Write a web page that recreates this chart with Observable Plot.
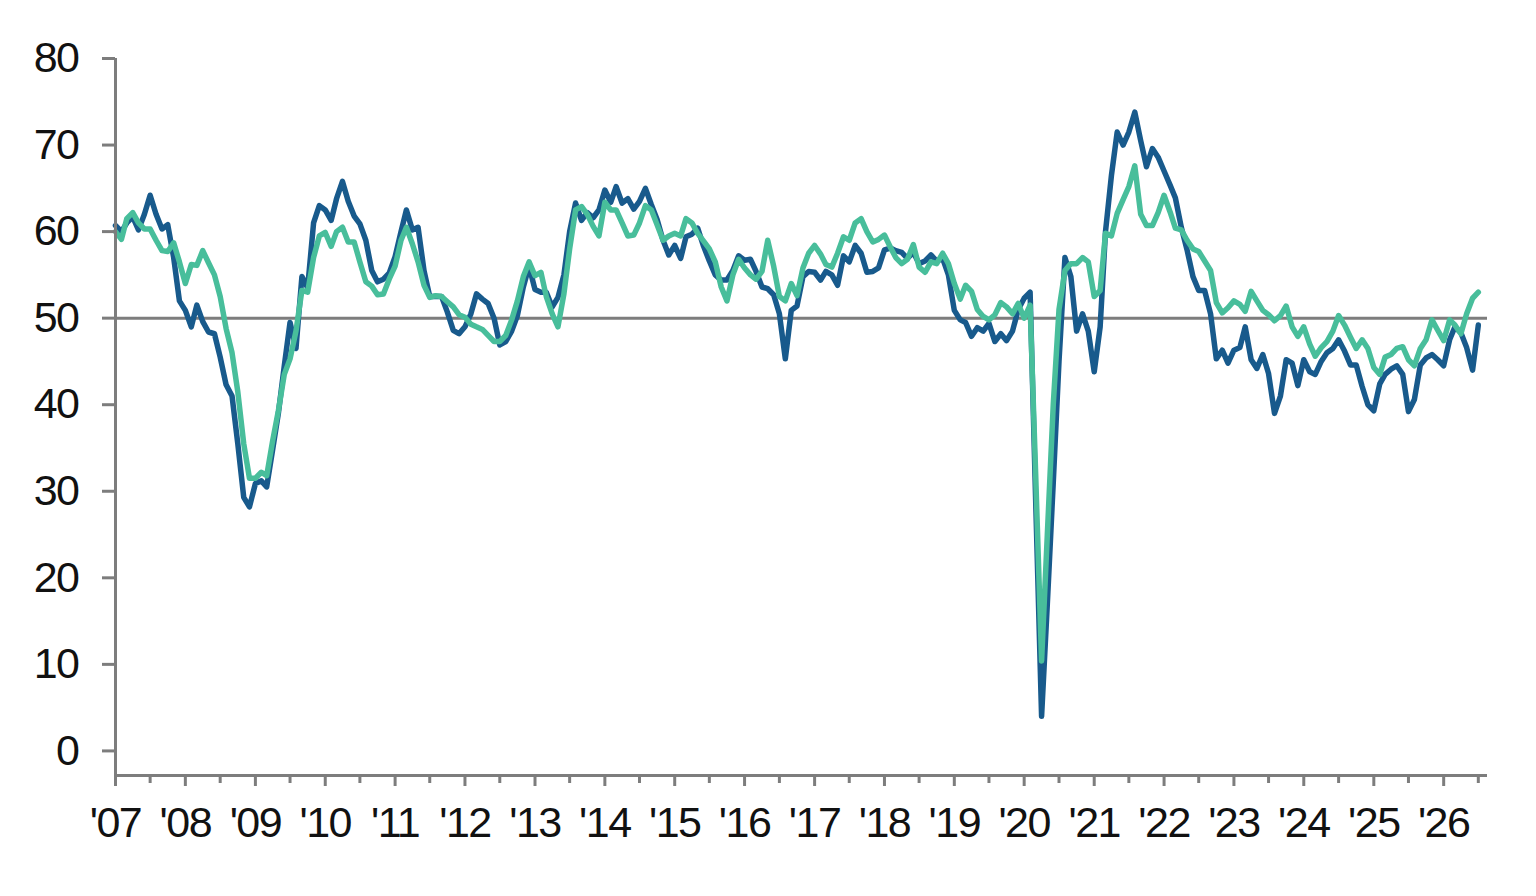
<!DOCTYPE html>
<html>
<head>
<meta charset="utf-8">
<script src="https://cdn.jsdelivr.net/npm/d3@7"></script>
<script src="https://cdn.jsdelivr.net/npm/@observablehq/plot@0.6"></script>
<style>
  html, body { margin: 0; padding: 0; background: #ffffff; }
  #chart svg { display: block; }
</style>
</head>
<body>
<div id="chart"></div>
<script>
// Monthly readings, January 2007 onwards (one row per calendar year).
const firstYear = 2007;

const darkSeries = [
  60.7, 60.0, 61.0, 61.7, 60.2, 62.0, 64.2, 62.0, 60.3, 60.8, 57.0, 52.0,
  50.9, 49.0, 51.5, 49.6, 48.4, 48.2, 45.5, 42.3, 41.0, 35.5, 29.3, 28.2,
  30.9, 31.2, 30.5, 34.8, 39.0, 44.5, 49.5, 46.5, 54.8, 53.5, 61.0, 63.0,
  62.5, 61.3, 63.8, 65.8, 63.5, 61.8, 60.9, 59.0, 55.5, 54.2, 54.5, 55.2,
  57.1, 60.0, 62.5, 60.2, 60.5, 55.5, 52.5, 52.5, 52.5, 50.7, 48.6, 48.2,
  49.0, 50.5, 52.8, 52.2, 51.7, 50.0, 46.9, 47.3, 48.5, 50.3, 53.6, 56.0,
  53.3, 53.0, 53.0, 51.3, 52.4, 55.0, 60.0, 63.3, 61.3, 62.2, 61.6, 62.5,
  64.8, 63.4, 65.2, 63.3, 63.8, 62.6, 63.5, 65.0, 63.1, 61.4, 59.0, 57.3,
  58.4, 56.9, 59.4, 59.7, 60.4, 58.3, 56.6, 55.0, 54.4, 54.4, 55.5, 57.2,
  56.7, 56.8, 55.4, 53.6, 53.4, 52.7, 50.5, 45.3, 50.9, 51.4, 54.8, 55.4,
  55.3, 54.4, 55.4, 55.0, 53.8, 57.2, 56.5, 58.4, 57.5, 55.3, 55.4, 55.8,
  57.9, 58.1, 57.8, 57.6, 56.9, 57.6, 56.3, 56.6, 57.3, 56.6, 56.9, 55.0,
  50.9, 49.8, 49.5, 47.9, 48.9, 48.5, 49.4, 47.3, 48.2, 47.4, 48.5, 51.0,
  52.3, 53.0, 29.0,  4.0, 17.0, 31.0, 45.0, 57.0, 54.8, 48.5, 50.5, 48.5,
  43.8, 49.0, 60.0, 66.5, 71.5, 70.0, 71.5, 73.8, 70.5, 67.5, 69.6, 68.6,
  67.0, 65.4, 63.9, 60.5, 57.9, 54.8, 53.2, 53.2, 50.5, 45.3, 46.3, 44.8,
  46.3, 46.6, 49.0, 45.2, 44.2, 45.8, 43.6, 39.0, 41.0, 45.2, 44.8, 42.2,
  45.2, 43.8, 43.5, 45.0, 46.0, 46.5, 47.5, 46.2, 44.6, 44.6, 42.1, 40.0,
  39.3, 42.4, 43.5, 44.1, 44.5, 43.5, 39.2, 40.6, 44.6, 45.4, 45.8, 45.2,
  44.5, 47.5, 49.0, 48.3, 46.6, 44.0, 49.2
];

const lightSeries = [
  60.0, 59.1, 61.5, 62.2, 61.0, 60.3, 60.3, 59.0, 57.8, 57.7, 58.7, 56.5,
  54.0, 56.2, 56.1, 57.8, 56.4, 55.0, 52.5, 48.8, 46.0, 41.5, 35.5, 31.5,
  31.5, 32.2, 31.8, 35.8, 39.3, 43.5, 45.3, 48.5, 53.2, 53.0, 57.0, 59.5,
  59.9, 58.3, 60.0, 60.5, 58.8, 58.8, 56.5, 54.2, 53.7, 52.7, 52.8, 54.5,
  56.0, 59.0, 60.5, 58.6, 56.5, 53.8, 52.4, 52.6, 52.5, 51.9, 51.3, 50.4,
  50.1, 49.3, 49.0, 48.7, 48.0, 47.3, 47.3, 48.0, 49.8, 52.0, 54.8, 56.5,
  54.9, 55.3, 52.5, 50.5, 49.0, 52.8, 58.0, 62.5, 62.9, 62.0, 60.6, 59.5,
  63.4, 62.5, 62.5, 61.0, 59.5, 59.6, 61.0, 63.0, 62.5, 60.8, 59.0, 59.5,
  59.8, 59.5, 61.5, 61.0, 59.8, 58.9, 58.0, 56.5, 53.6, 52.0, 55.0, 56.8,
  55.8, 55.0, 54.5, 55.4, 59.0, 56.0, 52.5, 52.0, 54.0, 52.6, 55.8, 57.5,
  58.4, 57.4, 56.2, 55.9, 57.5, 59.4, 59.0, 61.0, 61.5, 60.0, 58.8, 59.1,
  59.6, 58.2, 57.0, 56.3, 56.8, 58.5, 55.9, 55.3, 56.5, 56.3, 57.5, 56.3,
  54.0, 52.2, 53.8, 53.1, 51.0, 50.2, 49.8, 50.4, 51.8, 51.3, 50.5, 51.7,
  50.0, 51.5, 32.0, 10.4, 25.0, 40.0, 51.0, 55.5, 56.3, 56.3, 57.0, 56.5,
  52.5, 53.2, 59.8, 59.5, 62.1, 63.7, 65.2, 67.6, 62.0, 60.7, 60.7, 62.2,
  64.2, 62.3, 60.4, 60.2, 59.0, 58.0, 57.7, 56.6, 55.5, 51.8, 50.6, 51.2,
  52.0, 51.6, 50.8, 53.1, 52.0, 50.9, 50.4, 49.7, 50.3, 51.4, 49.0, 47.9,
  49.0, 47.0, 45.6, 46.6, 47.3, 48.5, 50.3, 49.2, 47.8, 46.5, 47.5, 46.5,
  44.3, 43.5, 45.5, 45.8, 46.5, 46.7, 45.2, 44.5, 46.5, 47.5, 49.8, 48.6,
  47.4, 49.8, 49.2, 48.2, 50.5, 52.3, 53.0
];

const yTicks = [0, 10, 20, 30, 40, 50, 60, 70, 80];
const referenceLevel = [50];
const tickYears = d3.range(2007, 2027);

// Helpers for the time axis
const monthDate = (i) => new Date(Date.UTC(firstYear, i, 1));
const yearStarts = tickYears.map((y) => new Date(Date.UTC(y, 0, 1)));
const midYears = tickYears.map((y) => new Date(Date.UTC(y, 6, 1)));
const yearLabel = (d) => "'" + String(d.getUTCFullYear()).slice(2);

const xDomain = [new Date(Date.UTC(2007, 0, 1)), new Date(Date.UTC(2026, 7, 18))];
const yFloor = -2.84; // axis line sits a little below zero
const axisGrey = "#7d7d7d";

const chart = Plot.plot({
  width: 1536,
  height: 896,
  marginLeft: 115,
  marginRight: 49,
  marginTop: 58,
  marginBottom: 121,
  style: {
    fontFamily: "'Liberation Sans Narrow', 'Arial Narrow', 'Liberation Sans', Arial, sans-serif",
    fontSize: "43px",
    letterSpacing: "-1.5px",
    color: "#111111",
    background: "#ffffff",
    overflow: "visible"
  },
  x: { type: "utc", domain: xDomain, label: null },
  y: { domain: [yFloor, 80], label: null },
  marks: [
    Plot.ruleY(referenceLevel, { stroke: axisGrey, strokeWidth: 3 }),
    Plot.line(darkSeries, {
      x: (d, i) => monthDate(i),
      y: (d) => d,
      stroke: "#185a8c",
      strokeWidth: 5.5,
      strokeLinejoin: "round",
      strokeLinecap: "round"
    }),
    Plot.line(lightSeries, {
      x: (d, i) => monthDate(i),
      y: (d) => d,
      stroke: "#48be9b",
      strokeWidth: 5.5,
      strokeLinejoin: "round",
      strokeLinecap: "round"
    }),
    // axis lines
    Plot.ruleX([xDomain[0]], { y1: yFloor, y2: 80, stroke: axisGrey, strokeWidth: 3 }),
    Plot.ruleY([yFloor], { stroke: axisGrey, strokeWidth: 3 }),
    Plot.axisY({
      ticks: yTicks,
      tickSize: 13,
      tickPadding: 24,
      stroke: axisGrey,
      strokeWidth: 3,
      fill: "#111111",
      tickFormat: (d) => String(d)
    }),
    Plot.axisX({
      ticks: midYears,
      tickSize: 8,
      stroke: axisGrey,
      strokeWidth: 3,
      tickFormat: () => ""
    }),
    Plot.axisX({
      ticks: yearStarts,
      tickSize: 11,
      tickPadding: 20,
      stroke: axisGrey,
      strokeWidth: 3,
      fill: "#111111",
      tickFormat: yearLabel
    })
  ]
});

document.getElementById("chart").appendChild(chart);
</script>
</body>
</html>
